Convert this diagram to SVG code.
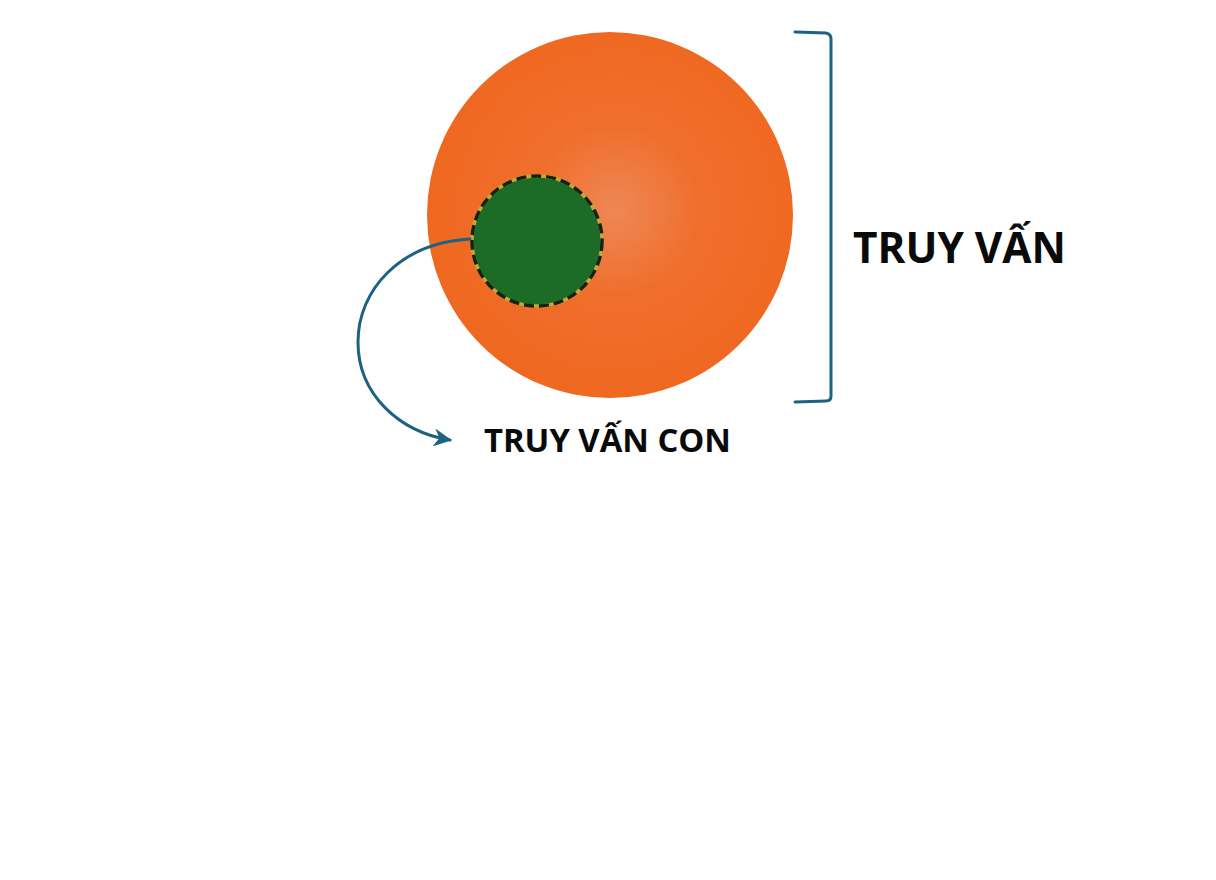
<svg xmlns="http://www.w3.org/2000/svg" width="1216" height="880" viewBox="0 0 1216 880">
<style>
.lbl{font-family:"Open Sans","Noto Sans","Liberation Sans",sans-serif;font-weight:bold;fill:#0a0a0a}
.conn{fill:none;stroke:#1d6283;stroke-width:3;stroke-linecap:round}
</style>
<defs>
<radialGradient id="og" cx="615" cy="210" r="190" gradientUnits="userSpaceOnUse">
<stop offset="0" stop-color="#ee8756"/>
<stop offset="0.45" stop-color="#f06e2c"/>
<stop offset="1" stop-color="#ef6820"/>
</radialGradient>
<marker id="ah" viewBox="0 0 10 10" refX="9" refY="5" markerWidth="6" markerHeight="6" orient="auto" markerUnits="strokeWidth">
<path d="M0,0 L10,5 L0,10 L3,5 Z" fill="#1d6283"/>
</marker>
</defs>
<rect width="1216" height="880" fill="#ffffff"/>
<g id="query">
<circle cx="610" cy="215" r="183" fill="url(#og)"/>
</g>
<g id="subquery">
<circle cx="537" cy="241" r="65" fill="#1c6b27" stroke="#c9a43a" stroke-width="3.5"/>
<circle cx="537" cy="241" r="65" fill="none" stroke="#14240e" stroke-width="3.5" stroke-dasharray="10 5"/>
</g>
<g id="connectors">
<path class="conn" d="M470,239 C400,243 358,290 358,342 C358,395 400,432 450,440" marker-end="url(#ah)"/>
<path class="conn" d="M795,32 L826,33 Q831,34 831,39 L831,396 Q831,401 826,401 L795,402"/>
</g>
<g id="label-query">
<text class="lbl" x="853" y="263" font-size="43" textLength="213" lengthAdjust="spacingAndGlyphs">TRUY VẤN</text>
</g>
<g id="label-subquery">
<text class="lbl" x="484" y="452" font-size="33" textLength="247" lengthAdjust="spacingAndGlyphs">TRUY VẤN CON</text>
</g>
</svg>
